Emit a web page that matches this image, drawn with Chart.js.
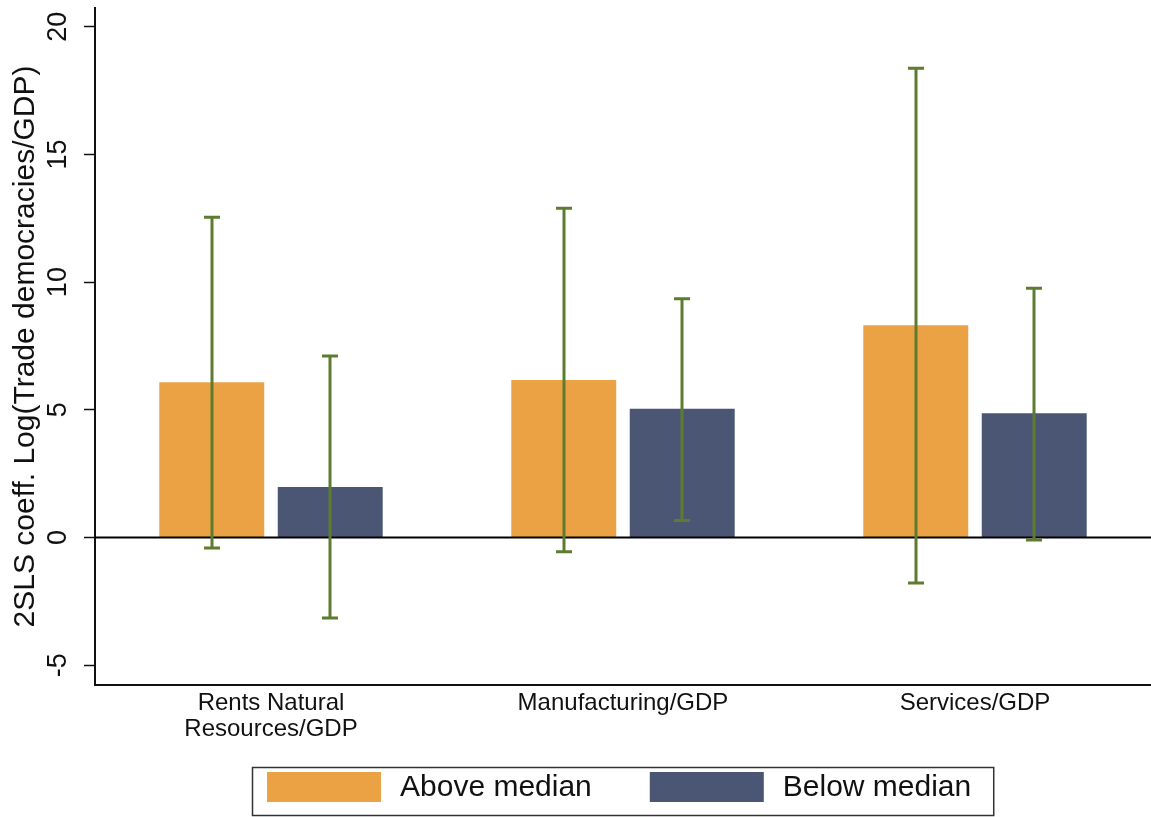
<!DOCTYPE html>
<html>
<head>
<meta charset="utf-8">
<script src="https://cdn.jsdelivr.net/npm/chart.js@4"></script>
<style>
  html, body { margin: 0; padding: 0; background: #fff; }
  #wrap { width: 1151px; height: 817px; position: relative; }
</style>
</head>
<body>
<div id="wrap"><canvas id="c" width="1151" height="817"></canvas></div>
<script>
// ---- data ----
const categories = [["Rents Natural", "Resources/GDP"], "Manufacturing/GDP", "Services/GDP"];
const seriesNames = ["Above median", "Below median"];
const aboveValues = [6.08, 6.17, 8.31];
const belowValues = [1.98, 5.04, 4.87];
const aboveLower = [-0.41, -0.55, -1.78];
const aboveUpper = [12.54, 12.89, 18.37];
const belowLower = [-3.15, 0.67, -0.09];
const belowUpper = [7.11, 9.35, 9.76];
const yTicks = [-5, 0, 5, 10, 15, 20];
const yTitle = "2SLS coeff. Log(Trade democracies/GDP)";

const FONT = "'Liberation Sans', Arial, Helvetica, sans-serif";
const COLORS = ["#EAA244", "#4A5674"];
const ERR_COLOR = "#5E7C2F";

const errorBars = {
  id: "errorBars",
  afterDatasetsDraw(chart) {
    const ctx = chart.ctx;
    const y = chart.scales.y;
    const area = chart.chartArea;
    // zero line
    const y0 = y.getPixelForValue(0);
    ctx.save();
    ctx.strokeStyle = "#000";
    ctx.lineWidth = 2;
    ctx.beginPath();
    ctx.moveTo(area.left, y0);
    ctx.lineTo(area.right, y0);
    ctx.stroke();
    const lows = [aboveLower, belowLower];
    const highs = [aboveUpper, belowUpper];
    ctx.strokeStyle = ERR_COLOR;
    ctx.lineWidth = 3;
    ctx.lineCap = "butt";
    chart.data.datasets.forEach((ds, i) => {
      const meta = chart.getDatasetMeta(i);
      meta.data.forEach((bar, j) => {
        const x = Math.round(bar.x);
        const yl = y.getPixelForValue(lows[i][j]);
        const yh = y.getPixelForValue(highs[i][j]);
        ctx.beginPath();
        ctx.moveTo(x, yl); ctx.lineTo(x, yh);
        ctx.moveTo(x - 8, yl); ctx.lineTo(x + 8, yl);
        ctx.moveTo(x - 8, yh); ctx.lineTo(x + 8, yh);
        ctx.stroke();
      });
    });
    ctx.restore();
  },
  afterDraw(chart) {
    const ctx = chart.ctx;
    const y = chart.scales.y;
    const area = chart.chartArea;
    ctx.save();
    // rotated y tick labels
    ctx.fillStyle = "#111";
    ctx.font = "27px " + FONT;
    ctx.textAlign = "center";
    ctx.textBaseline = "middle";
    yTicks.forEach(v => {
      const py = y.getPixelForValue(v);
      ctx.save();
      ctx.translate(59, py);
      ctx.rotate(-Math.PI / 2);
      ctx.fillText(String(v), 0, 0);
      ctx.restore();
    });
    // legend
    const fs = 30;
    ctx.font = fs + "px " + FONT;
    const sw = 114, sh = 30, gapText = 19, gapItem = 58, padL = 15, padR = 22;
    const widths = seriesNames.map(n => ctx.measureText(n).width);
    const inner = sw + gapText + widths[0] + gapItem + sw + gapText + widths[1];
    const total = padL + inner + padR;
    const cx = (area.left + area.right) / 2;
    const bx = Math.round(cx - total / 2);
    const by = 767, bh = 48;
    ctx.strokeStyle = "#333";
    ctx.lineWidth = 1.5;
    ctx.strokeRect(bx + 0.5, by + 0.5, total, bh);
    let x = bx + padL;
    const sy = 772;
    ctx.textAlign = "left";
    ctx.textBaseline = "middle";
    seriesNames.forEach((n, i) => {
      ctx.fillStyle = chart.data.datasets[i].backgroundColor;
      ctx.fillRect(x, sy, sw, sh);
      x += sw + gapText;
      ctx.fillStyle = "#111";
      ctx.fillText(n, x, sy + sh / 2 + 1);
      x += widths[i] + gapItem;
    });
    ctx.restore();
  }
};

new Chart(document.getElementById("c"), {
  type: "bar",
  data: {
    labels: categories,
    datasets: [
      { label: seriesNames[0], data: aboveValues, backgroundColor: COLORS[0], borderWidth: 0 },
      { label: seriesNames[1], data: belowValues, backgroundColor: COLORS[1], borderWidth: 0 }
    ]
  },
  options: {
    responsive: false,
    animation: false,
    devicePixelRatio: 1,
    layout: { padding: { top: 8, right: 0, bottom: 62, left: 0 } },
    datasets: { bar: { categoryPercentage: 0.673, barPercentage: 0.886 } },
    plugins: { legend: { display: false }, tooltip: { enabled: false } },
    scales: {
      x: {
        grid: { display: true, drawOnChartArea: false, drawTicks: false },
        border: { display: true, color: "#111", width: 2 },
        ticks: { color: "#111", font: { family: FONT, size: 24, lineHeight: 1.1 }, padding: 5, maxRotation: 0, autoSkip: false },
        afterFit(s) { s.height = 70; }
      },
      y: {
        min: -5.77,
        max: 20.73,
        afterBuildTicks(s) { s.ticks = yTicks.map(v => ({ value: v })); },
        grid: { display: true, drawOnChartArea: false, drawTicks: true, tickLength: 11, tickWidth: 1.5, tickColor: "#111" },
        border: { display: true, color: "#111", width: 2 },
        ticks: { display: false },
        title: { display: true, text: yTitle, color: "#111", font: { family: FONT, size: 30 }, padding: { top: 8, bottom: 0 } },
        afterFit(s) { s.width = 95; }
      }
    }
  },
  plugins: [errorBars]
});
</script>
</body>
</html>
